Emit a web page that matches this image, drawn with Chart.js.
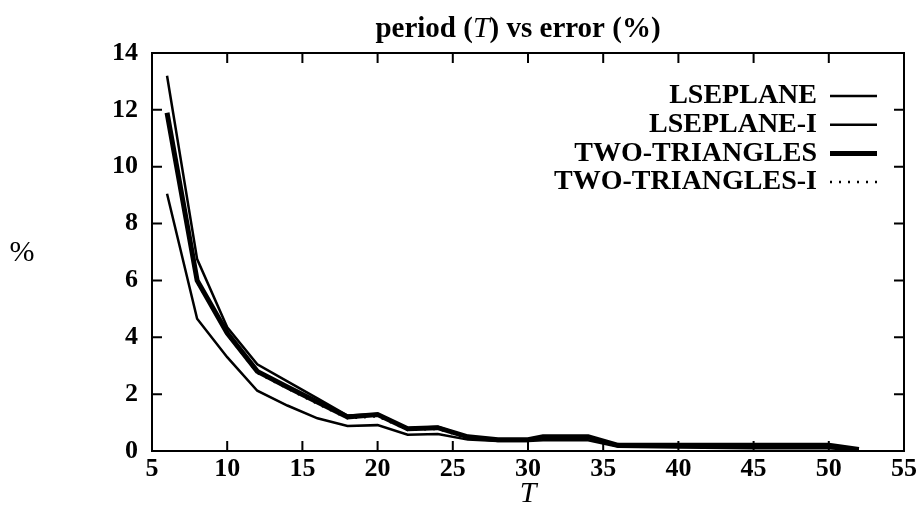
<!DOCTYPE html>
<html>
<head>
<meta charset="utf-8">
<script src="https://cdn.jsdelivr.net/npm/chart.js@4/dist/chart.umd.min.js"></script>
<style>
  html, body { margin: 0; padding: 0; background: #fff; }
  #wrap { width: 920px; height: 526px; }
</style>
</head>
<body>
<div id="wrap"><canvas id="grafico"></canvas></div>
<script>
// periodos T y error (%)
const periodos = [6, 8, 10, 12, 14, 16, 18, 20, 22, 24, 26, 28, 30, 31, 34, 36, 40, 45, 50, 52]
const lseplane = [13.2, 6.75, 4.35, 3.05, 2.45, 1.85, 1.25, 1.3, 0.8, 0.85, 0.5, 0.4, 0.4, 0.5, 0.5, 0.2, 0.2, 0.2, 0.2, 0.05]
const lseplaneI = [9.05, 4.65, 3.3, 2.12, 1.6, 1.15, 0.88, 0.91, 0.57, 0.6, 0.4, 0.35, 0.35, 0.38, 0.38, 0.15, 0.12, 0.1, 0.1, 0.02]
const dosTriangulos = [11.9, 6.0, 4.15, 2.8, 2.25, 1.72, 1.2, 1.28, 0.78, 0.82, 0.5, 0.4, 0.4, 0.5, 0.5, 0.2, 0.2, 0.2, 0.2, 0.05]
const dosTriangulosI = [11.8, 5.95, 4.1, 2.75, 2.2, 1.66, 1.15, 1.22, 0.74, 0.78, 0.45, 0.37, 0.37, 0.45, 0.45, 0.17, 0.17, 0.17, 0.17, 0.04]
const etiquetas = ['LSEPLANE', 'LSEPLANE-I', 'TWO-TRIANGLES', 'TWO-TRIANGLES-I']
const ticksX = [5, 10, 15, 20, 25, 30, 35, 40, 45, 50, 55]
const ticksY = [0, 2, 4, 6, 8, 10, 12, 14]

const SERIF = '"Liberation Serif", "DejaVu Serif", serif'

function puntos (valores) {
  return periodos.map((t, i) => ({ x: t, y: valores[i] }))
}

// marco con marcas hacia adentro, titulo, leyenda y etiquetas de ejes
const marco = {
  id: 'marco',
  afterDraw (chart) {
    const { ctx, chartArea: a, scales: { x, y } } = chart
    ctx.save()
    ctx.strokeStyle = '#000'
    ctx.lineWidth = 2
    ctx.strokeRect(a.left, a.top, a.right - a.left, a.bottom - a.top)
    ctx.beginPath()
    ticksX.forEach(v => {
      const px = x.getPixelForValue(v)
      ctx.moveTo(px, a.bottom); ctx.lineTo(px, a.bottom - 10)
      ctx.moveTo(px, a.top); ctx.lineTo(px, a.top + 10)
    })
    ticksY.forEach(v => {
      const py = y.getPixelForValue(v)
      ctx.moveTo(a.left, py); ctx.lineTo(a.left + 10, py)
      ctx.moveTo(a.right, py); ctx.lineTo(a.right - 10, py)
    })
    ctx.stroke()

    // titulo con T en cursiva
    const partes = [
      ['period (', 'bold 29px ' + SERIF],
      ['T', 'italic 30px ' + SERIF],
      [') vs error (%)', 'bold 29px ' + SERIF]
    ]
    let ancho = 0
    partes.forEach(p => { ctx.font = p[1]; ancho += ctx.measureText(p[0]).width })
    let cx = 518 - ancho / 2
    ctx.fillStyle = '#000'
    ctx.textBaseline = 'alphabetic'
    ctx.textAlign = 'left'
    partes.forEach(p => { ctx.font = p[1]; ctx.fillText(p[0], cx, 37); cx += ctx.measureText(p[0]).width })

    // etiquetas de ejes
    ctx.font = '30px ' + SERIF
    ctx.textAlign = 'center'
    ctx.textBaseline = 'middle'
    ctx.fillText('%', 22, 253)
    ctx.font = 'italic 30px ' + SERIF
    ctx.fillText('T', (a.left + a.right) / 2, 494)

    // leyenda
    chart.data.datasets.forEach((ds, i) => {
      const fy = 96 + i * 28.7
      ctx.font = 'bold 28px ' + SERIF
      ctx.textAlign = 'right'
      ctx.textBaseline = 'middle'
      ctx.fillText(ds.label, 817, fy)
      ctx.beginPath()
      ctx.lineWidth = ds.borderWidth
      ctx.setLineDash(ds.borderDash || [])
      ctx.moveTo(830, fy); ctx.lineTo(877, fy)
      ctx.stroke()
    })
    ctx.setLineDash([])
    ctx.restore()
  }
}

const ctx = document.getElementById('grafico').getContext('2d')
const grafico = new Chart(ctx, {
  type: 'line',
  data: {
    datasets: [
      { label: etiquetas[0], data: puntos(lseplane), borderColor: '#000', borderWidth: 2.5 },
      { label: etiquetas[1], data: puntos(lseplaneI), borderColor: '#000', borderWidth: 2.5 },
      { label: etiquetas[2], data: puntos(dosTriangulos), borderColor: '#000', borderWidth: 5 },
      { label: etiquetas[3], data: puntos(dosTriangulosI), borderColor: '#000', borderWidth: 2.5, borderDash: [2, 7] }
    ]
  },
  options: {
    responsive: true,
    maintainAspectRatio: false,
    animation: false,
    elements: { point: { radius: 0 }, line: { tension: 0 } },
    layout: { padding: { top: 53, right: 13, left: 0, bottom: 0 } },
    plugins: { legend: { display: false }, title: { display: false }, tooltip: { enabled: false } },
    scales: {
      x: {
        type: 'linear',
        min: 5,
        max: 55,
        grid: { display: false, drawTicks: false },
        border: { display: false },
        afterFit: s => { s.height = 75 },
        afterBuildTicks: s => { s.ticks = ticksX.map(v => ({ value: v })) },
        ticks: { color: '#000', padding: 3, font: { family: SERIF, size: 26, weight: 'bold' } }
      },
      y: {
        min: 0,
        max: 14,
        grid: { display: false, drawTicks: false },
        border: { display: false },
        afterFit: s => { s.width = 152 },
        afterBuildTicks: s => { s.ticks = ticksY.map(v => ({ value: v })) },
        ticks: { color: '#000', padding: 14, font: { family: SERIF, size: 26, weight: 'bold' } }
      }
    }
  },
  plugins: [marco]
})
</script>
</body>
</html>
